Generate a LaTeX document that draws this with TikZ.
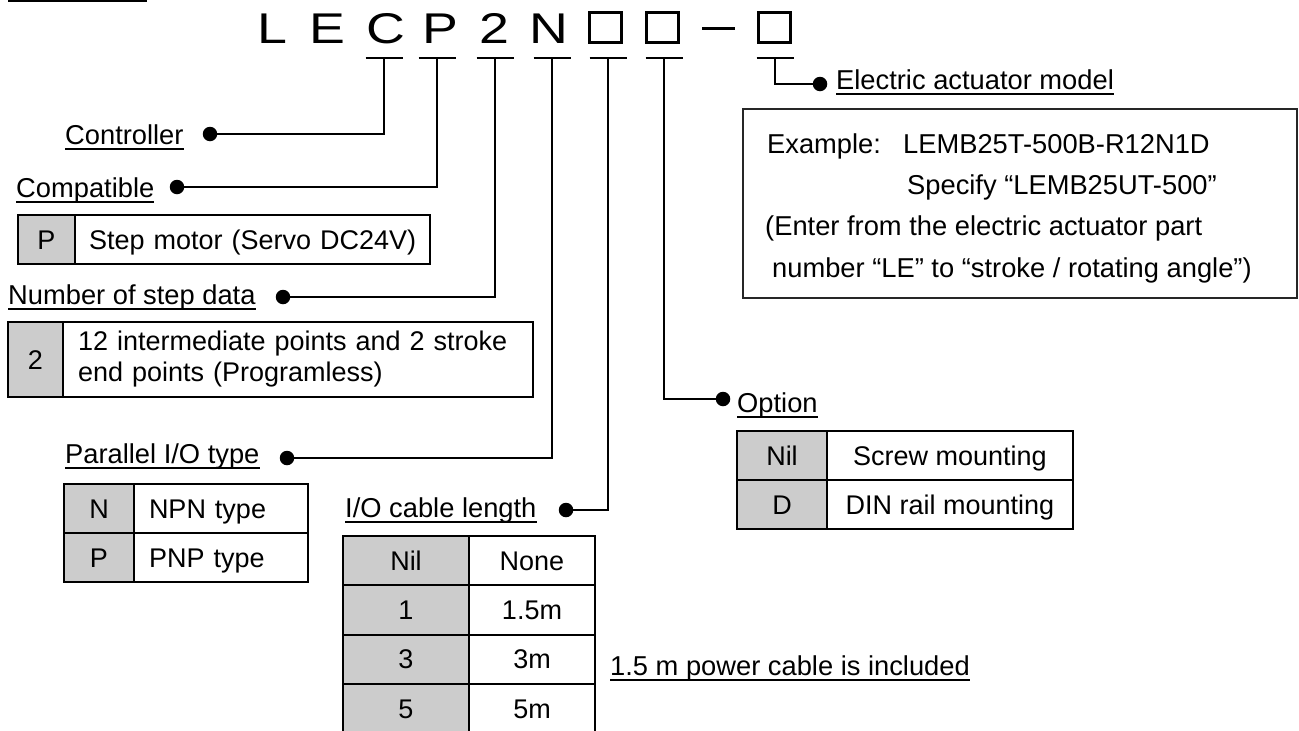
\documentclass[tikz,border=0pt]{standalone}
\usepackage{graphicx}
\usepackage{fontspec}
\setmainfont{Liberation Sans}
\definecolor{cellgray}{RGB}{204,204,204}
\begin{document}
\begin{tikzpicture}[x=1pt,y=-1pt,
  conn/.style={line width=2pt},
  dot/.style={circle,fill=black,inner sep=0pt,minimum size=14.5pt},
  lbl/.style={anchor=base west,inner sep=0pt,font=\fontsize{27.3}{32}\selectfont},
  big/.style={anchor=base,inner sep=0pt,font=\fontsize{43}{48}\selectfont},
  slot/.style={draw,line width=3pt,minimum width=32pt,minimum height=30pt,inner sep=0pt},
  cell/.style={draw,line width=2pt,anchor=north west,inner sep=0pt,font=\fontsize{27}{32}\selectfont,text height=19.4pt,text depth=0pt},
  gcell/.style={cell,fill=cellgray},
  uline/.style={line width=2pt}
]
\useasboundingbox (0,0) rectangle (1299,731);

% top-left rule
\draw[line width=1.5pt] (8,0.8) -- (147,0.8);

% model code
\node[big] (lL) at (272.5,43) {\scalebox{1.25}[1]{L}};
\node[big] (lE) at (327.5,43) {\scalebox{1.25}[1]{E}};
\node[big] (lC) at (386,43) {\scalebox{1.25}[1]{C}};
\node[big] (lP) at (440,43) {\scalebox{1.25}[1]{P}};
\node[big] (l2) at (494.5,43) {\scalebox{1.25}[1]{2}};
\node[big] (lN) at (549,43) {\scalebox{1.25}[1]{N}};
\node[slot] (s1) at (605.5,27.5) {};
\node[slot] (s2) at (662.5,27.5) {};
\node[slot] (s3) at (774.5,27.5) {};
\coordinate (dashL) at (702,28);
\coordinate (dashR) at (735,28);
\draw[line width=3pt] (dashL) -- (dashR);

% T-bar tops
\coordinate (tC) at (384,58);
\coordinate (tP) at (437,58);
\coordinate (t2) at (495,58);
\coordinate (tN) at (552,58);
\coordinate (t1) at (608,58);
\coordinate (tB) at (664,58);
\coordinate (t3) at (775,58);
\foreach \c in {tC,tP,t2,tN,t1,tB,t3}
  \draw[conn] ([xshift=-18.5pt]\c) -- ([xshift=18.5pt]\c);

% dots
\node[dot] (dC) at (210,134) {};
\node[dot] (dP) at (177,187) {};
\node[dot] (d2) at (283,297) {};
\node[dot] (dN) at (287,458) {};
\node[dot] (d1) at (566,510) {};
\node[dot] (dB) at (723,399) {};
\node[dot] (d3) at (820,84) {};

% connectors
\draw[conn] (tC) |- (dC);
\draw[conn] (tP) |- (dP);
\draw[conn] (t2) |- (d2);
\draw[conn] (tN) |- (dN);
\draw[conn] (t1) |- (d1);
\draw[conn] (tB) |- (dB);
\draw[conn] (t3) |- (d3);

% labels
\node[lbl] (nC) at (65,144) {Controller};
\node[lbl] (nP) at (16,197) {Compatible};
\node[lbl] (n2) at (8,304) {Number of step data};
\node[lbl] (nN) at (65,463) {Parallel I/O type};
\node[lbl] (n1) at (345,517) {I/O cable length};
\node[lbl] (nB) at (737,412) {Option};
\node[lbl] (n3) at (836,89) {Electric actuator model};
\node[lbl] (nPow) at (610,675) {1.5 m power cable is included};
\foreach \n in {nC,nP,n2,nN,n1,nB,n3,nPow}
  \draw[uline] ([yshift=-4.5pt]\n.base west) -- ([yshift=-4.5pt]\n.base east);

% Compatible table
\node[gcell,minimum width=57pt,minimum height=49pt] (pg) at (17,214) {P};
\node[cell,minimum height=49pt,text width=327pt,inner xsep=14pt,align=left] (pw) at (74,214) {\mbox{Step motor (Servo DC24V)}};

% Step data table
\node[gcell,minimum width=55pt,minimum height=75pt] (sg) at (7,321) {2};
\node[draw,line width=2pt,anchor=north west,minimum height=75pt,text width=440pt,inner xsep=15pt,inner ysep=0pt,align=left,font=\fontsize{27}{31}\selectfont] (sw) at (62,321) {12 intermediate points and 2 stroke\\end points (Programless)};

% Parallel I/O table
\node[gcell,minimum width=70pt,minimum height=49pt] (ng1) at (63,483) {N};
\node[cell,minimum height=49pt,text width=144pt,inner xsep=15pt,align=left] (nw1) at (133,483) {\mbox{NPN type}};
\node[gcell,minimum width=70pt,minimum height=49pt] (ng2) at (63,532) {P};
\node[cell,minimum height=49pt,text width=144pt,inner xsep=15pt,align=left] (nw2) at (133,532) {\mbox{PNP type}};

% I/O cable table
\node[gcell,minimum width=126pt,minimum height=49.3pt] (cg1) at (342,535) {Nil};
\node[cell,minimum width=126pt,minimum height=49.3pt] (cw1) at (468,535) {None};
\node[gcell,minimum width=126pt,minimum height=49.3pt] (cg2) at (342,584.3) {1};
\node[cell,minimum width=126pt,minimum height=49.3pt] (cw2) at (468,584.3) {1.5m};
\node[gcell,minimum width=126pt,minimum height=49.3pt] (cg3) at (342,633.6) {3};
\node[cell,minimum width=126pt,minimum height=49.3pt] (cw3) at (468,633.6) {3m};
\node[gcell,minimum width=126pt,minimum height=49.3pt] (cg4) at (342,682.9) {5};
\node[cell,minimum width=126pt,minimum height=49.3pt] (cw4) at (468,682.9) {5m};

% Option table
\node[gcell,minimum width=90pt,minimum height=49pt] (og1) at (736,430) {Nil};
\node[cell,minimum width=246pt,minimum height=49pt] (ow1) at (826,430) {Screw mounting};
\node[gcell,minimum width=90pt,minimum height=49pt] (og2) at (736,479) {D};
\node[cell,minimum width=246pt,minimum height=49pt] (ow2) at (826,479) {DIN rail mounting};

% Example box
\node[draw=black!85,line width=1.6pt,anchor=north west,minimum width=554pt,minimum height=189pt,inner sep=0pt] (ex) at (742,108) {};
\node[lbl] (ex1a) at (767,153) {Example:};
\node[lbl] (ex1b) at (903,153) {LEMB25T-500B-R12N1D};
\node[lbl] (ex2) at (907,194) {Specify “LEMB25UT-500”};
\node[lbl] (ex3) at (765,235) {(Enter from the electric actuator part};
\node[lbl] (ex4) at (772,277) {number “LE” to “stroke / rotating angle”)};
\end{tikzpicture}
\end{document}
